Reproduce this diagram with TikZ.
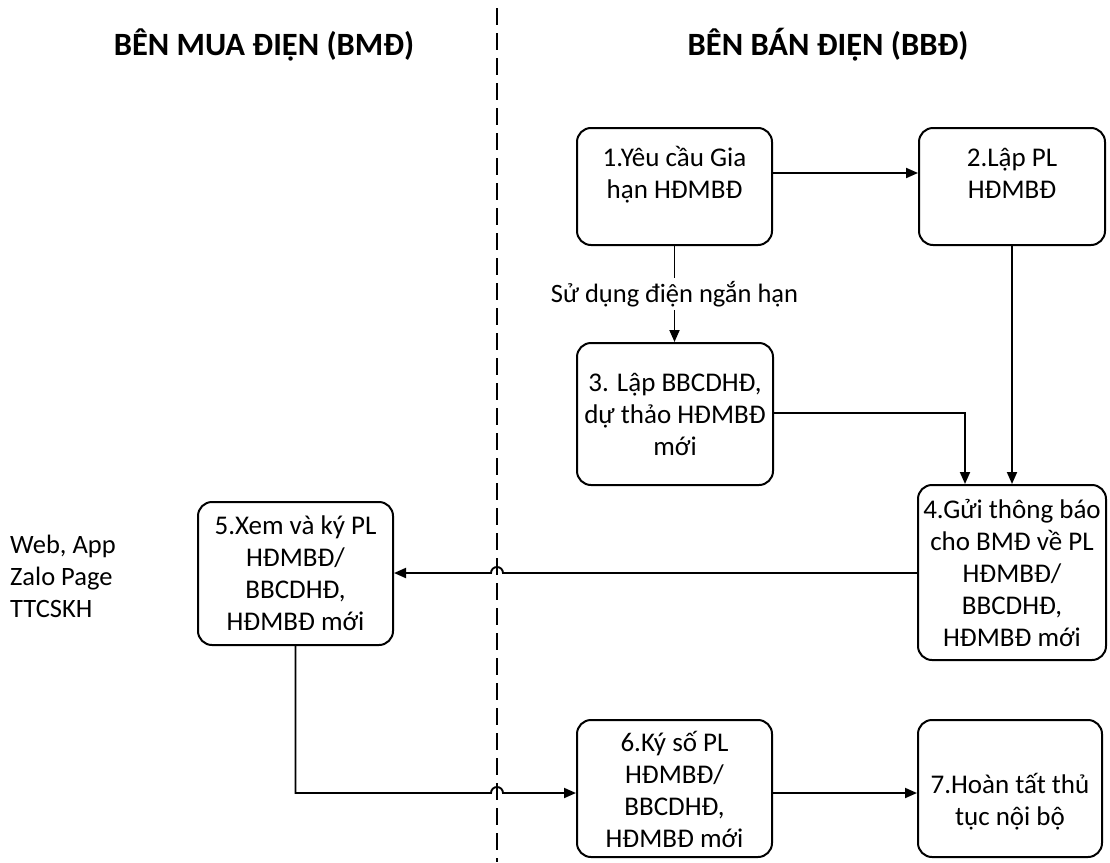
\documentclass[tikz,border=0pt]{standalone}
\usepackage{fontspec}
\setmainfont{Carlito}
\usetikzlibrary{arrows.meta}
\newcommand\shiftedtext[2]{\raisebox{#1}[\height][\depth]{\begin{tabular}{@{}c@{}}#2\end{tabular}}}
\begin{document}
\begin{tikzpicture}[x=1pt,y=-1pt,
  box/.style={draw, line width=2pt, rounded corners=14pt, align=center,
    font=\fontsize{27}{32}\selectfont, inner sep=2pt},
  conn/.style={line width=1.9pt, -{Triangle[length=12pt,width=10pt]}},
  titletext/.style={font=\fontsize{32.5}{38}\selectfont\bfseries},
  lbl/.style={font=\fontsize{26.5}{32}\selectfont, fill=white, inner sep=3pt},
  sidetext/.style={font=\fontsize{26.5}{32}\selectfont, align=left, anchor=west, inner sep=0pt},
  divider/.style={line width=2pt, dash pattern=on 17pt off 8pt, dash phase=17pt}]
\useasboundingbox (0,0) rectangle (1110,862);

% divider
\coordinate (dtop) at (497,0);
\coordinate (dbot) at (497,862);
\draw[divider] (dtop) -- (dbot);

% titles
\node[titletext] (tl) at (264,45) {BÊN MUA ĐIỆN (BMĐ)};
\node[titletext] (tr) at (828,45) {BÊN BÁN ĐIỆN (BBĐ)};

% boxes
\node[box, minimum width=195pt, minimum height=117pt] (b1) at (674.5,186.5) {\shiftedtext{10pt}{1.Yêu cầu Gia\\hạn HĐMBĐ}};
\node[box, minimum width=186pt, minimum height=117pt] (b2) at (1012,186.5) {\shiftedtext{10pt}{2.Lập PL\\HĐMBĐ}};
\node[box, minimum width=196pt, minimum height=142pt] (b3) at (675,414) {3. Lập BBCDHĐ,\\dự thảo HĐMBĐ\\mới};
\node[box, minimum width=188pt, minimum height=175pt] (b4) at (1012,572.5) {4.Gửi thông báo\\cho BMĐ về PL\\HĐMBĐ/\\BBCDHĐ,\\HĐMBĐ mới};
\node[box, minimum width=195pt, minimum height=143pt] (b5) at (295.5,573.5) {5.Xem và ký PL\\HĐMBĐ/\\BBCDHĐ,\\HĐMBĐ mới};
\node[box, minimum width=195pt, minimum height=137pt] (b6) at (674.5,788.5) {\shiftedtext{-5pt}{6.Ký số PL\\HĐMBĐ/\\BBCDHĐ,\\HĐMBĐ mới}};
\node[box, minimum width=184pt, minimum height=137pt] (b7) at (1010,788.5) {\shiftedtext{-15pt}{7.Hoàn tất thủ\\tục nội bộ}};

% side text
\node[sidetext] (side) at (10,576) {Web, App\\Zalo Page\\TTCSKH};

% helper coordinates
\coordinate (y1) at (0,173);
\coordinate (y3) at (0,413);
\coordinate (x4a) at (965,0);
\coordinate (y4) at (0,573);
\coordinate (hop1) at (503,573);
\coordinate (y6) at (0,793);
\coordinate (hop2) at (491,793);

% connectors
\draw[conn] (b1.east |- y1) -- (b2.west |- y1);
\draw[conn] (b1.south) -- node[lbl] (lab) {Sử dụng điện ngắn hạn} (b1.south |- b3.north);
\draw[conn] (b3.east |- y3) -| (x4a |- b4.north);
\draw[conn] (b2.south) -- (b2.south |- b4.north);
\draw[conn] (b4.west |- y4) -- (hop1) arc[start angle=0, end angle=180, radius=6pt] -- (b5.east |- y4);
\draw[conn] (b5.south) -- (b5.south |- y6) -- (hop2) arc[start angle=180, end angle=0, radius=6pt] -- (b6.west |- y6);
\draw[conn] (b6.east |- y6) -- (b7.west |- y6);
\end{tikzpicture}
\end{document}
